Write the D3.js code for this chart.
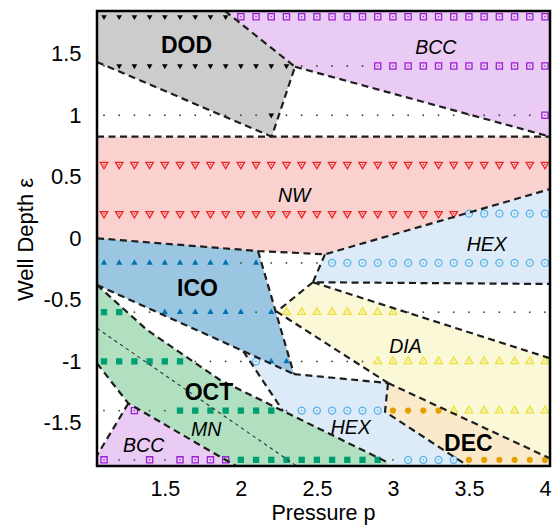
<!DOCTYPE html>
<html>
<head>
<meta charset="utf-8">
<script src="https://cdn.jsdelivr.net/npm/d3@7"></script>
<style>
  body { margin: 0; background: #fff; }
  svg { display: block; font-family: "Liberation Sans", Arial, sans-serif; }
</style>
</head>
<body>
<div id="vis"></div>
<script>
const FRAME_WIDTH = 554;
const FRAME_HEIGHT = 525;
const MARGINS = { top: 11, bottom: 59, left: 97, right: 4 };
const VIS_WIDTH = FRAME_WIDTH - MARGINS.left - MARGINS.right;
const VIS_HEIGHT = FRAME_HEIGHT - MARGINS.top - MARGINS.bottom;

// axis ranges and ticks
const P_RANGE = [1.054, 4.033];
const E_RANGE = [-1.85, 1.847];
const X_TICKS = [1.5, 2, 2.5, 3, 3.5, 4];
const Y_TICKS = [-1.5, -1, -0.5, 0, 0.5, 1, 1.5];

// sampled grid: pressure columns and well depth rows
const P_VALUES = [1.1, 1.2, 1.3, 1.4, 1.5, 1.6, 1.7, 1.8, 1.9, 2.0,
                  2.1, 2.2, 2.3, 2.4, 2.5, 2.6, 2.7, 2.8, 2.9, 3.0,
                  3.1, 3.2, 3.3, 3.4, 3.5, 3.6, 3.7, 3.8, 3.9, 4.0];
const E_VALUES = [1.8, 1.4, 1.0, 0.6, 0.2, -0.2, -0.6, -1.0, -1.4, -1.8];

// phase found at each grid point, one string per row (T=DOD S=BCC N=NW I=ICO H=HEX Y=DIA O=OCT D=DEC .=none)
const PHASE_ROWS = [
  "TTTTT TTTTS SSSSS SSSSS SSSSS SSSSS",
  ".TTTT TTTTT TTT.. ...SS SSSSS SSSSS",
  "..... ..... .T... ..... ..... ....S",
  "NNNNN NNNNN NNNNN NNNNN NNNNN NNNNN",
  "NNNNN NNNNN NNNNN NNNNN NNNNH HHHHH",
  "IIIII IIII. I.... HHHHH HHHHH HHHHH",
  "OO..I IIIII .IYYY YYYYY ..... .....",
  "OOOOO O.... HII.. ...YY YYYYY YYYYY",
  "..S.. OOOOO OO.HH HHHHD DDDYY YYYYY",
  "S..S. SSSSO OOOOO OOOO. HHHHD DDDDD",
].map((r) => r.replace(/ /g, ""));

// phase regions as [p, epsilon] polygons
const DOD_REGION = [[1.054, 1.847], [1.896, 1.847], [2.356, 1.394], [2.203, 0.826], [1.054, 1.433]];
const BCC_TOP_REGION = [[1.896, 1.847], [4.033, 1.847], [4.033, 0.826], [2.356, 1.394]];
const NW_REGION = [[1.054, 0.826], [4.033, 0.826], [4.033, 0.40], [2.553, -0.13], [2.113, -0.103], [1.054, 0]];
const HEX_TOP_REGION = [[2.553, -0.13], [4.033, 0.40], [4.033, -0.371], [2.474, -0.357]];
const DIA_REGION = [[2.474, -0.357], [4.033, -0.975], [4.033, -1.788], [2.968, -1.176], [2.236, -0.596]];
const DEC_REGION = [[2.968, -1.176], [4.033, -1.788], [4.033, -1.85], [3.494, -1.85], [2.948, -1.409]];
const HEX_LOW_REGION = [[2.016, -0.918], [2.349, -1.103], [2.968, -1.176], [2.948, -1.409], [3.494, -1.85],
                        [2.961, -1.85], [2.961, -1.818], [2.277, -1.403]];
const ICO_REGION = [[1.054, 0], [2.113, -0.103], [2.349, -1.103], [1.054, -0.379]];
const OCT_REGION = [[1.054, -0.379], [1.383, -0.745], [1.863, -1.151], [2.961, -1.818], [2.961, -1.85],
                    [1.968, -1.85], [1.26, -1.341], [1.054, -1.016]];
const BCC_LOW_REGION = [[1.26, -1.341], [1.968, -1.85], [1.054, -1.85], [1.054, -1.765]];

// dashed phase boundaries
const BOUNDARIES = [
  [[1.054, 1.433], [2.203, 0.826]],
  [[1.896, 1.847], [2.356, 1.394], [2.203, 0.826]],
  [[2.356, 1.394], [4.033, 0.826]],
  [[1.054, 0.826], [4.033, 0.826]],
  [[1.054, 0], [2.113, -0.103], [2.553, -0.13], [4.033, 0.40]],
  [[2.553, -0.13], [2.474, -0.357], [4.033, -0.371]],
  [[2.474, -0.357], [4.033, -0.975]],
  [[2.113, -0.103], [2.349, -1.103]],
  [[1.054, -0.379], [2.349, -1.103]],
  [[2.474, -0.357], [2.236, -0.596], [2.968, -1.176]],
  [[2.349, -1.103], [2.968, -1.176]],
  [[2.968, -1.176], [4.033, -1.788]],
  [[2.968, -1.176], [2.948, -1.409], [3.494, -1.85]],
  [[2.016, -0.918], [2.277, -1.403]],
  [[1.054, -0.379], [1.383, -0.745], [1.863, -1.151], [2.961, -1.818], [2.961, -1.85]],
  [[1.054, -1.016], [1.26, -1.341], [1.968, -1.85]],
  [[1.26, -1.341], [1.054, -1.765]],
];
// thin OCT / MN divider
const MN_LINE = [[1.054, -0.731], [2.367, -1.85]];

const LABEL_TEXT = ["DOD", "BCC", "NW", "HEX", "ICO", "DIA", "OCT", "MN", "BCC", "HEX", "DEC"];
const LABEL_P = [1.643, 3.282, 2.351, 3.617, 1.715, 3.083, 1.79, 1.772, 1.361, 2.723, 3.496];
const LABEL_E = [1.571, 1.554, 0.352, -0.048, -0.40, -0.873, -1.246, -1.551, -1.68, -1.531, -1.659];
const BOLD_LABELS = ["DOD", "ICO", "OCT", "DEC"];

const REGION_FILL = [
  [DOD_REGION, "#cccccc"],
  [BCC_TOP_REGION, "#eacbf4"],
  [NW_REGION, "#f9d2d0"],
  [HEX_TOP_REGION, "#dcebf7"],
  [DIA_REGION, "#fbf8d8"],
  [DEC_REGION, "#faeacb"],
  [HEX_LOW_REGION, "#dcebf7"],
  [ICO_REGION, "#9bc6e1"],
  [OCT_REGION, "#b0e0c0"],
  [BCC_LOW_REGION, "#eacbf4"],
];

const MARKERS = {
  T: { type: d3.symbolTriangle, size: 14, rot: 180, fill: "#000000", open: false },
  S: { type: d3.symbolSquare, size: 38, rot: 0, fill: "#9b1fd6", open: true },
  N: { type: d3.symbolTriangle, size: 24, rot: 180, fill: "#ee2222", open: true },
  I: { type: d3.symbolTriangle, size: 17, rot: 0, fill: "#0072b2", open: false },
  H: { type: d3.symbolCircle, size: 38, rot: 0, fill: "#56b4e9", open: true },
  Y: { type: d3.symbolTriangle, size: 26, rot: 0, fill: "#ece03a", open: true },
  O: { type: d3.symbolSquare, size: 40, rot: 0, fill: "#009e73", open: false },
  D: { type: d3.symbolCircle, size: 30, rot: 0, fill: "#e69f00", open: false },
};

const X_SCALE = d3.scaleLinear().domain(P_RANGE).range([0, VIS_WIDTH]);
const Y_SCALE = d3.scaleLinear().domain(E_RANGE).range([VIS_HEIGHT, 0]);

const FRAME = d3
  .select("#vis")
  .append("svg")
  .attr("width", FRAME_WIDTH)
  .attr("height", FRAME_HEIGHT);

FRAME.append("defs")
  .append("clipPath")
  .attr("id", "plot-clip")
  .append("rect")
  .attr("width", VIS_WIDTH)
  .attr("height", VIS_HEIGHT);

const PLOT = FRAME.append("g")
  .attr("transform", `translate(${MARGINS.left},${MARGINS.top})`);

const AREA = PLOT.append("g").attr("clip-path", "url(#plot-clip)");

const line = d3
  .line()
  .x((d) => X_SCALE(d[0]))
  .y((d) => Y_SCALE(d[1]));

AREA.selectAll(".region")
  .data(REGION_FILL)
  .enter()
  .append("path")
  .attr("class", "region")
  .attr("d", (d) => line(d[0]) + "Z")
  .attr("fill", (d) => d[1])
  .attr("stroke", "none");

// grid points
const points = [];
E_VALUES.forEach((e, i) => {
  P_VALUES.forEach((p, j) => {
    points.push({ p: p, e: e, code: PHASE_ROWS[i][j] });
  });
});

const marks = AREA.selectAll(".pt")
  .data(points)
  .enter()
  .append("g")
  .attr("class", "pt")
  .attr("transform", (d) => `translate(${X_SCALE(d.p)},${Y_SCALE(d.e)})`);

marks.each(function (d) {
  const g = d3.select(this);
  const m = MARKERS[d.code];
  if (!m) {
    g.append("circle").attr("r", 0.9).attr("fill", "#444");
    return;
  }
  g.append("path")
    .attr("d", d3.symbol().type(m.type).size(m.size)())
    .attr("transform", `rotate(${m.rot})`)
    .attr("fill", m.open ? "none" : m.fill)
    .attr("stroke", m.open ? m.fill : "none")
    .attr("stroke-width", 1.3);
  if (m.open) {
    g.append("circle").attr("r", 0.8).attr("fill", m.fill);
  }
});

AREA.selectAll(".boundary")
  .data(BOUNDARIES)
  .enter()
  .append("path")
  .attr("class", "boundary")
  .attr("d", line)
  .attr("fill", "none")
  .attr("stroke", "#1e1e1e")
  .attr("stroke-width", 2.2)
  .attr("stroke-dasharray", "7,4.5");

AREA.append("path")
  .attr("d", line(MN_LINE))
  .attr("fill", "none")
  .attr("stroke", "#333")
  .attr("stroke-width", 1.1)
  .attr("stroke-dasharray", "3.5,3.5");

PLOT.selectAll(".label")
  .data(LABEL_TEXT)
  .enter()
  .append("text")
  .attr("class", "label")
  .attr("x", (d, i) => X_SCALE(LABEL_P[i]))
  .attr("y", (d, i) => Y_SCALE(LABEL_E[i]))
  .attr("dy", "0.36em")
  .attr("text-anchor", "middle")
  .attr("font-size", (d) => (BOLD_LABELS.includes(d) ? 23 : 19.5))
  .attr("font-weight", (d) => (BOLD_LABELS.includes(d) ? "bold" : "normal"))
  .attr("font-style", (d) => (BOLD_LABELS.includes(d) ? "normal" : "italic"))
  .attr("fill", "#000")
  .text((d) => d);

PLOT.append("rect")
  .attr("width", VIS_WIDTH)
  .attr("height", VIS_HEIGHT)
  .attr("fill", "none")
  .attr("stroke", "#000")
  .attr("stroke-width", 2.5);

const X_AXIS = FRAME.append("g")
  .attr("transform", `translate(${MARGINS.left},${MARGINS.top + VIS_HEIGHT})`)
  .call(d3.axisBottom(X_SCALE).tickValues(X_TICKS).tickSize(0).tickPadding(14.5).tickFormat((d) => String(d)))
  .attr("font-size", 21.5)
  .attr("font-family", "Liberation Sans, Arial, sans-serif");
X_AXIS.select(".domain").remove();

const Y_AXIS = FRAME.append("g")
  .attr("transform", `translate(${MARGINS.left},${MARGINS.top})`)
  .call(d3.axisLeft(Y_SCALE).tickValues(Y_TICKS).tickSize(0).tickPadding(15.5).tickFormat((d) => String(d)))
  .attr("font-size", 22)
  .attr("font-family", "Liberation Sans, Arial, sans-serif");
Y_AXIS.select(".domain").remove();

FRAME.append("text")
  .attr("x", MARGINS.left + VIS_WIDTH / 2)
  .attr("y", 519.5)
  .attr("text-anchor", "middle")
  .attr("font-size", 21.5)
  .text("Pressure p");

FRAME.append("text")
  .attr("transform", `translate(33,${MARGINS.top + VIS_HEIGHT / 2 + 1}) rotate(-90)`)
  .attr("text-anchor", "middle")
  .attr("font-size", 22)
  .text("Well Depth ε");
</script>
</body>
</html>
